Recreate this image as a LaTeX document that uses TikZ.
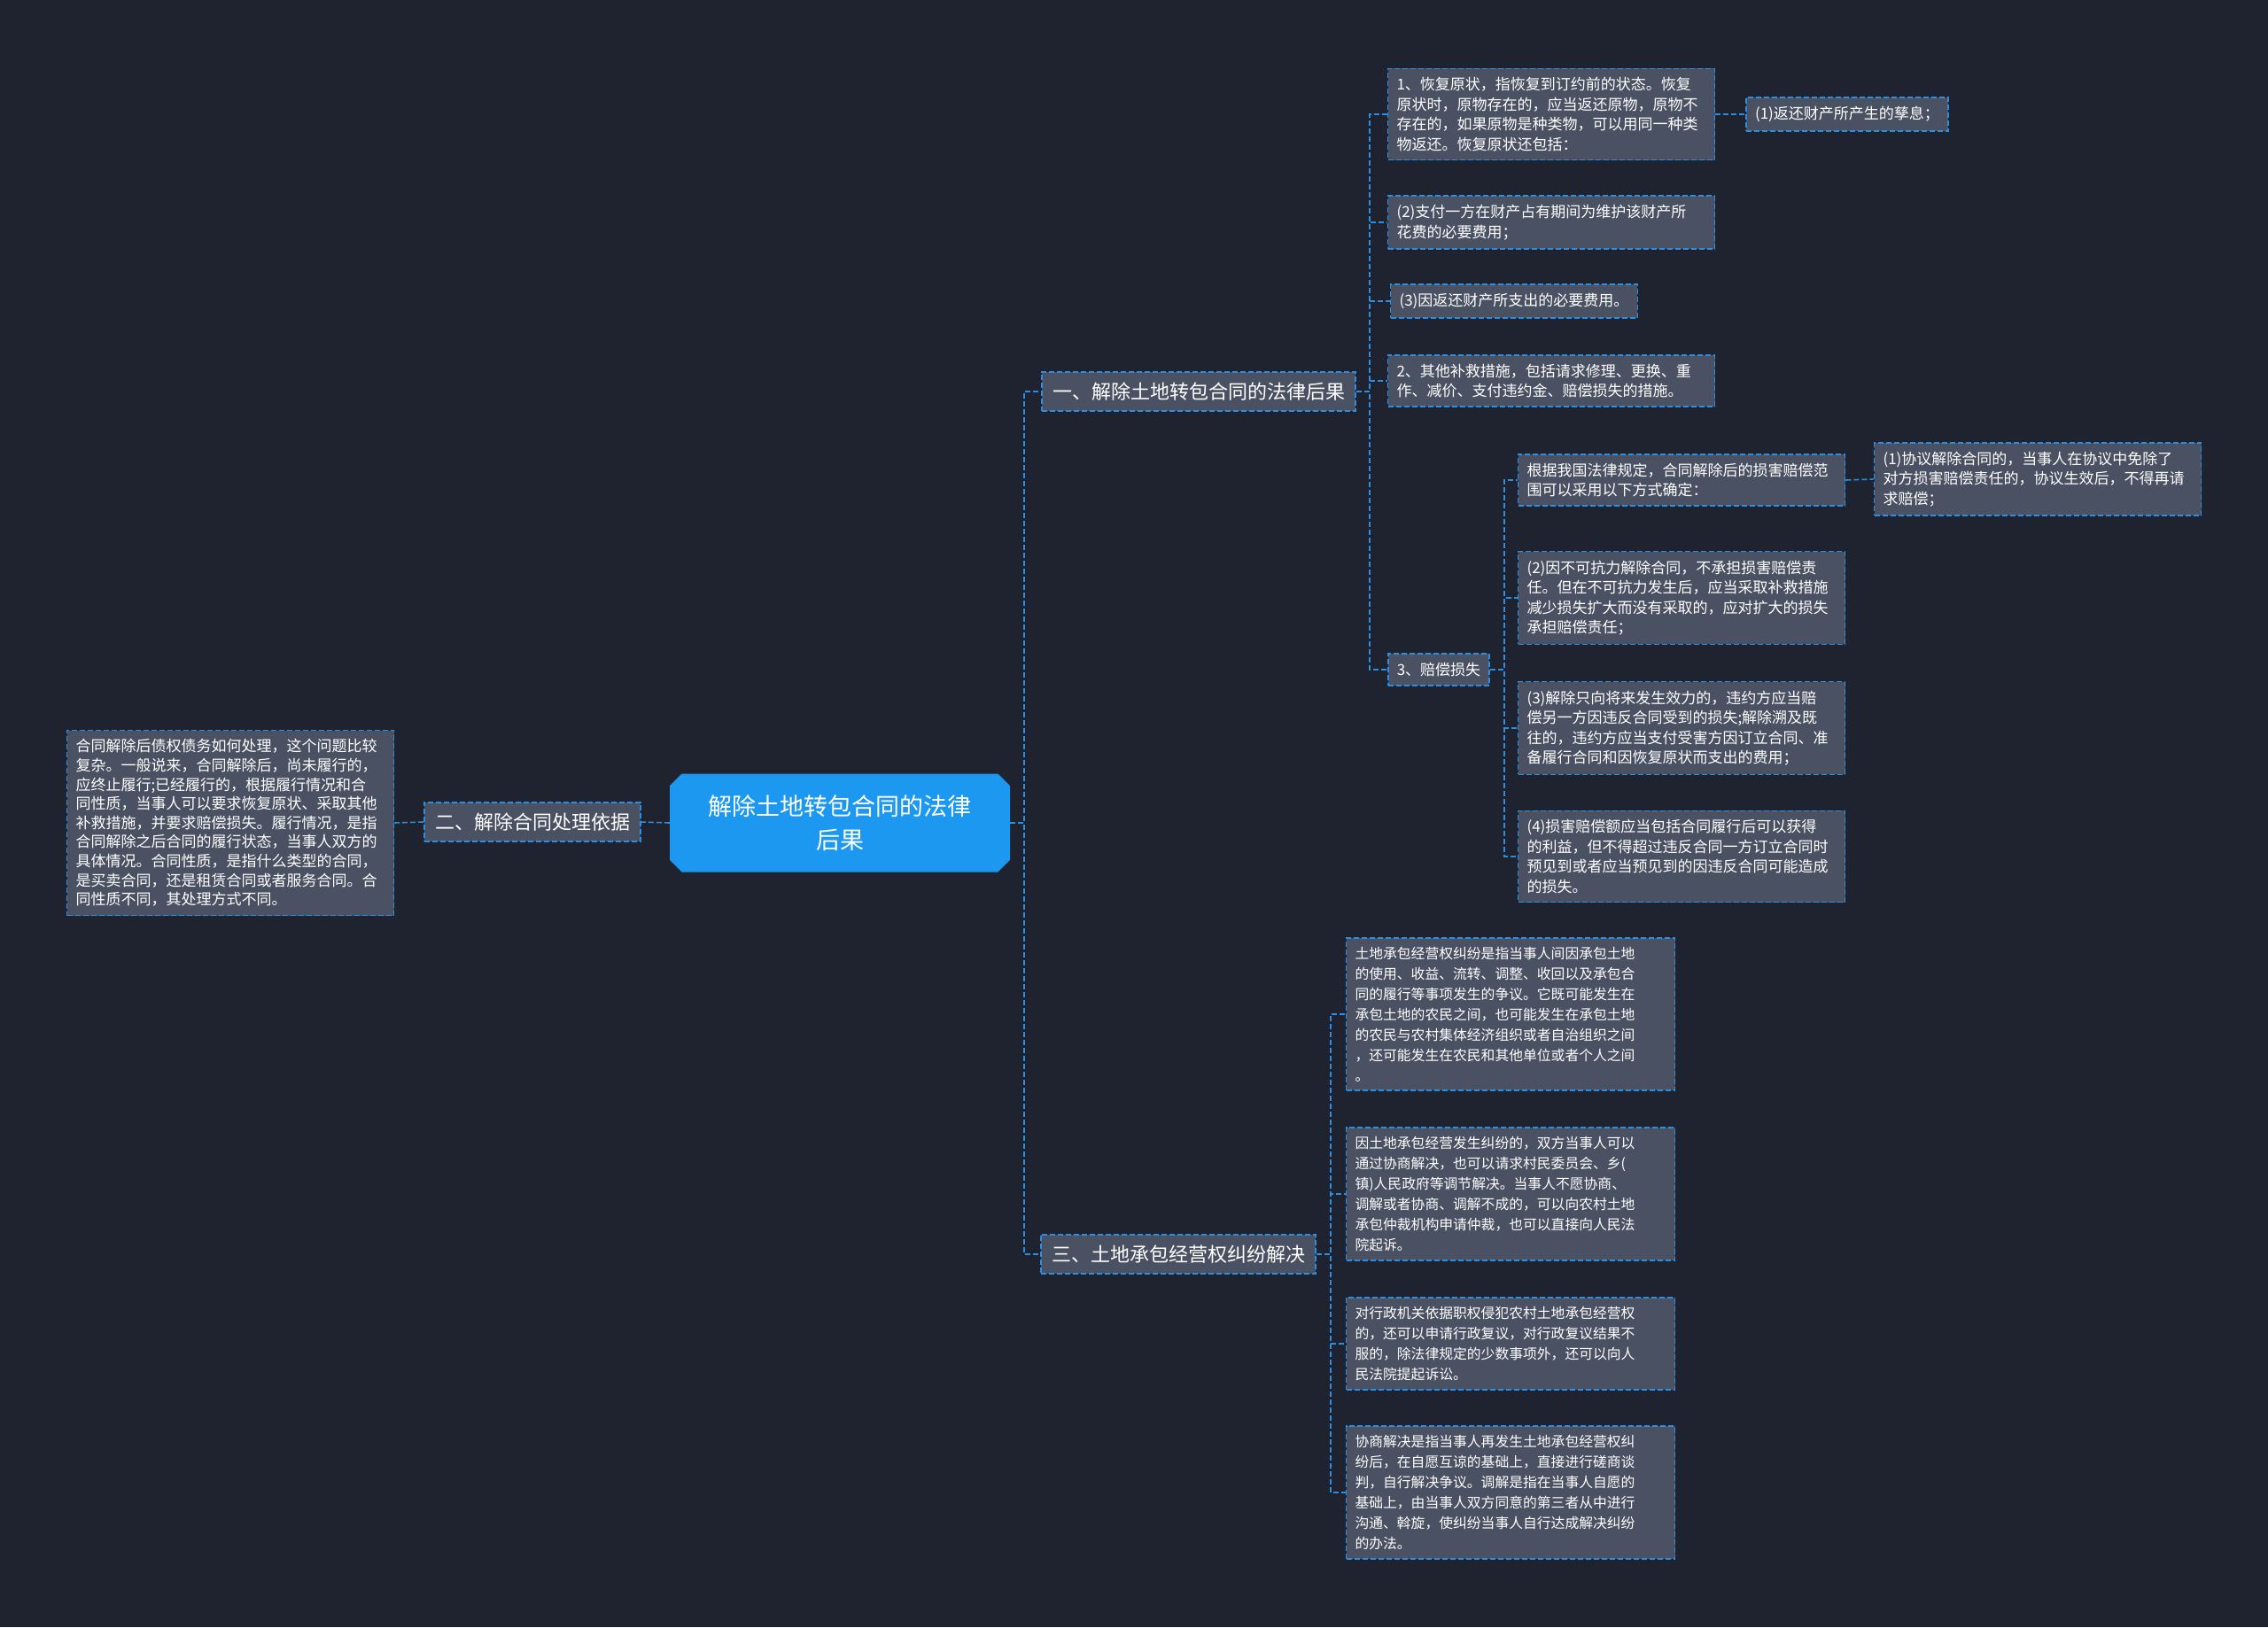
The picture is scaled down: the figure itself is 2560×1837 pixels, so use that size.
\documentclass[tikz,border=0pt]{standalone}
\usepackage{fontspec}
\setmainfont{Noto Sans CJK SC}
\usetikzlibrary{shapes.misc}
\definecolor{bg}{HTML}{1F2330}
\definecolor{boxf}{HTML}{4A5162}
\definecolor{bl}{HTML}{2A8FE0}
\definecolor{rootf}{HTML}{1D98F0}
\begin{document}
\begin{tikzpicture}[x=1pt,y=-1pt,
  box/.style={draw=bl, dash pattern=on 6pt off 3pt, line width=1.6pt, fill=boxf, text=white, align=left, inner sep=10pt, anchor=center},
  leaf/.style={box, font=\fontsize{17}{22.5}\selectfont},
  wide/.style={leaf, text width=349pt},
  ewide/.style={box, text width=351pt, font=\fontsize{15.8}{23}\selectfont},
  br/.style={box, font=\fontsize{22}{26}\selectfont, inner sep=12pt},
  conn/.style={draw=bl, dash pattern=on 6pt off 3pt, line width=1.6pt}]
\fill[bg] (0,0) rectangle (2560,1837);
\useasboundingbox (0,0) rectangle (2560,1837);

\node[chamfered rectangle, chamfered rectangle xsep=10pt, fill=rootf, text=white, align=center, font=\fontsize{27}{38}\selectfont, minimum width=384pt, minimum height=111pt, inner sep=4pt] (root) at (948,929) {解除土地转包合同的法律\\后果};

\node[br] (b1) at (1353,442) {一、解除土地转包合同的法律后果};
\node[br] (b2) at (601,928) {二、解除合同处理依据};
\node[br] (b3) at (1330,1416) {三、土地承包经营权纠纷解决};

\node[leaf, text width=349pt, font=\fontsize{17}{21.6}\selectfont] (L) at (260,929) {合同解除后债权债务如何处理，这个问题比较\\复杂。一般说来，合同解除后，尚未履行的，\\应终止履行;已经履行的，根据履行情况和合\\同性质，当事人可以要求恢复原状、采取其他\\补救措施，并要求赔偿损失。履行情况，是指\\合同解除之后合同的履行状态，当事人双方的\\具体情况。合同性质，是指什么类型的合同，\\是买卖合同，还是租赁合同或者服务合同。合\\同性质不同，其处理方式不同。};

\node[wide] (c1) at (1751,129) {1、恢复原状，指恢复到订约前的状态。恢复\\原状时，原物存在的，应当返还原物，原物不\\存在的，如果原物是种类物，可以用同一种类\\物返还。恢复原状还包括：};
\node[leaf] (c1a) at (2085,129) {(1)返还财产所产生的孳息；};
\node[wide] (c2) at (1751,251) {(2)支付一方在财产占有期间为维护该财产所\\花费的必要费用；};
\node[leaf] (c3) at (1709,340) {(3)因返还财产所支出的必要费用。};
\node[wide] (c4) at (1751,430) {2、其他补救措施，包括请求修理、更换、重\\作、减价、支付违约金、赔偿损失的措施。};
\node[leaf] (c5) at (1624,756) {3、赔偿损失};

\node[wide] (d1) at (1898,542) {根据我国法律规定，合同解除后的损害赔偿范\\围可以采用以下方式确定：};
\node[wide] (d1a) at (2300,541) {(1)协议解除合同的，当事人在协议中免除了\\对方损害赔偿责任的，协议生效后，不得再请\\求赔偿；};
\node[wide] (d2) at (1898,675) {(2)因不可抗力解除合同，不承担损害赔偿责\\任。但在不可抗力发生后，应当采取补救措施\\减少损失扩大而没有采取的，应对扩大的损失\\承担赔偿责任；};
\node[wide] (d3) at (1898,822) {(3)解除只向将来发生效力的，违约方应当赔\\偿另一方因违反合同受到的损失;解除溯及既\\往的，违约方应当支付受害方因订立合同、准\\备履行合同和因恢复原状而支出的费用；};
\node[wide] (d4) at (1898,967) {(4)损害赔偿额应当包括合同履行后可以获得\\的利益，但不得超过违反合同一方订立合同时\\预见到或者应当预见到的因违反合同可能造成\\的损失。};

\node[ewide] (e1) at (1705,1145) {土地承包经营权纠纷是指当事人间因承包土地\\的使用、收益、流转、调整、收回以及承包合\\同的履行等事项发生的争议。它既可能发生在\\承包土地的农民之间，也可能发生在承包土地\\的农民与农村集体经济组织或者自治组织之间\\，还可能发生在农民和其他单位或者个人之间\\。};
\node[ewide] (e2) at (1705,1348) {因土地承包经营发生纠纷的，双方当事人可以\\通过协商解决，也可以请求村民委员会、乡(\\镇)人民政府等调节解决。当事人不愿协商、\\调解或者协商、调解不成的，可以向农村土地\\承包仲裁机构申请仲裁，也可以直接向人民法\\院起诉。};
\node[ewide] (e3) at (1705,1517) {对行政机关依据职权侵犯农村土地承包经营权\\的，还可以申请行政复议，对行政复议结果不\\服的，除法律规定的少数事项外，还可以向人\\民法院提起诉讼。};
\node[ewide] (e4) at (1705,1685) {协商解决是指当事人再发生土地承包经营权纠\\纷后，在自愿互谅的基础上，直接进行磋商谈\\判，自行解决争议。调解是指在当事人自愿的\\基础上，由当事人双方同意的第三者从中进行\\沟通、斡旋，使纠纷当事人自行达成解决纠纷\\的办法。};

\foreach \c in {b1,b3} \draw[conn] (root.east) -- ++(16,0) |- (\c.west);
\draw[conn] (root.west) -- (b2.east);
\draw[conn] (b2.west) -- (L.east);
\foreach \c in {c1,c2,c3,c4,c5} \draw[conn] (b1.east) -- ++(15,0) |- (\c.west);
\draw[conn] (c1.east) -- (c1a.west);
\foreach \c in {d1,d2,d3,d4} \draw[conn] (c5.east) -- ++(16,0) |- (\c.west);
\draw[conn] (d1.east) -- (d1a.west);
\foreach \c in {e1,e2,e3,e4} \draw[conn] (b3.east) -- ++(16,0) |- (\c.west);
\end{tikzpicture}
\end{document}
